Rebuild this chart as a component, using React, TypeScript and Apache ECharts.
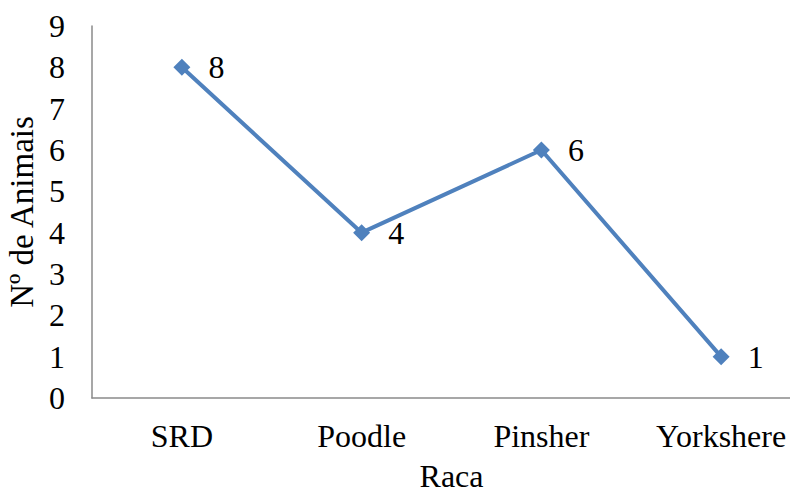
import React, { useEffect, useRef } from "react";
import * as echarts from "echarts";

const categories = ["SRD", "Poodle", "Pinsher", "Yorkshere"];
const values = [8, 4, 6, 1];
const yTicks = { min: 0, max: 9, interval: 1 };
const xTitle = "Raça";
const yTitle = "Nº de Animais";

const FONT = "'Liberation Serif', 'Times New Roman', serif";

export default function App() {
  const ref = useRef<HTMLDivElement>(null);
  useEffect(() => {
    if (!ref.current) return;
    const chart = echarts.init(ref.current, null, { renderer: "svg" });
    chart.setOption({
      animation: false,
      backgroundColor: "#ffffff",
      grid: {
        left: 92,
        top: 26,
        right: -13,
        bottom: 97,
        containLabel: false,
        outerBoundsMode: "none",
      },
      xAxis: {
        type: "category",
        data: categories,
        boundaryGap: true,
        name: xTitle,
        nameLocation: "middle",
        nameGap: 61,
        nameTextStyle: { fontFamily: FONT, fontSize: 32, color: "#000", lineHeight: 34 },
        axisLine: { show: true, lineStyle: { color: "#8a8a8a", width: 1.5 } },
        axisTick: { show: false },
        axisLabel: { fontFamily: FONT, fontSize: 32, color: "#000", margin: 22 },
        splitLine: { show: false },
      },
      yAxis: {
        type: "value",
        min: yTicks.min,
        max: yTicks.max,
        interval: yTicks.interval,
        name: yTitle,
        nameLocation: "middle",
        nameGap: 50,
        nameTextStyle: { fontFamily: FONT, fontSize: 33, color: "#000" },
        axisLine: { show: true, lineStyle: { color: "#8a8a8a", width: 1.5 } },
        axisTick: { show: false },
        axisLabel: { fontFamily: FONT, fontSize: 32, color: "#000", margin: 27 },
        splitLine: { show: false },
      },
      series: [
        {
          type: "line",
          data: values,
          symbol: "diamond",
          symbolSize: 17,
          lineStyle: { color: "#4F81BD", width: 4 },
          itemStyle: { color: "#4F81BD" },
          label: {
            show: true,
            position: "right",
            distance: 18,
            fontFamily: FONT,
            fontSize: 32,
            color: "#000",
          },
        },
      ],
    });
    return () => chart.dispose();
  }, []);
  return <div ref={ref} style={{ width: 798, height: 495, margin: -8 }} />;
}
